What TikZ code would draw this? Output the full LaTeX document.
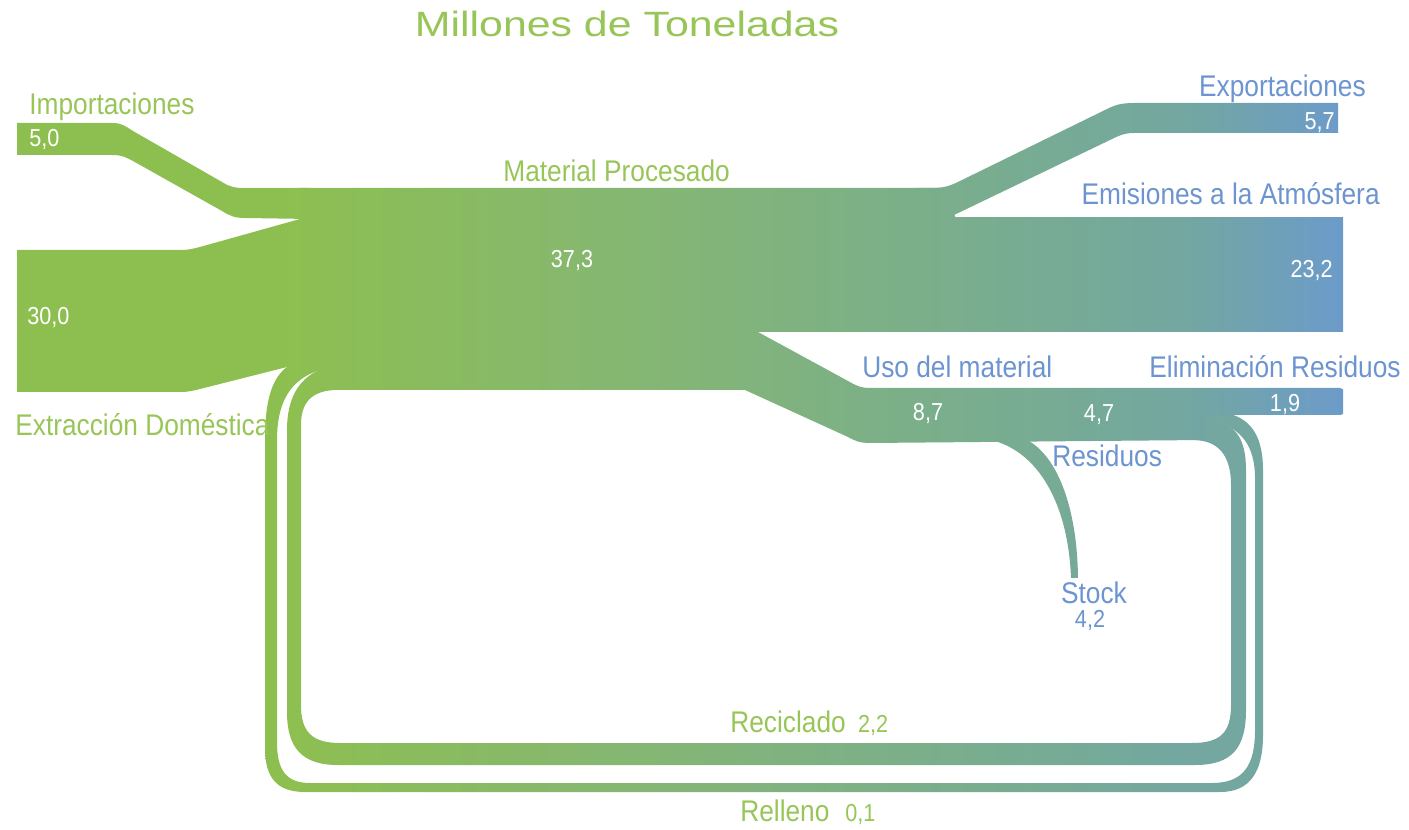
\documentclass[tikz,border=0pt]{standalone}
\usepackage{fontspec}
\setmainfont{Liberation Sans}[FakeStretch=0.88]
\newfontfamily\titlefont{Liberation Sans}[FakeStretch=1.22]

\definecolor{flowA}{RGB}{141,191,80}
\definecolor{flowB}{RGB}{134,183,112}
\definecolor{flowC}{RGB}{122,174,140}
\definecolor{flowE}{RGB}{115,167,160}
\definecolor{flowD}{RGB}{108,155,202}
\definecolor{labelgreen}{RGB}{152,197,88}
\definecolor{labelblue}{RGB}{108,148,208}

% the band box is mapped on 25bp..75bp
\pgfdeclarehorizontalshading{flowshade}{100bp}{color(0bp)=(flowA); color(35bp)=(flowA); color(47bp)=(flowB); color(60bp)=(flowC); color(69bp)=(flowE); color(75bp)=(flowD); color(100bp)=(flowD)}
\pgfdeclarehorizontalshading{loopshade}{100bp}{color(0bp)=(flowA); color(35bp)=(flowA); color(47bp)=(flowB); color(60bp)=(flowC); color(69bp)=(flowE); color(100bp)=(flowE)}

\tikzset{
    band/.style={path picture={\shade[shading=flowshade] (17,0) rectangle (1343,830);}},
    loop band/.style={path picture={\shade[shading=loopshade] (17,0) rectangle (1343,830);}},
    lbl/.style={inner sep=0pt, font=\fontsize{17}{20}\selectfont},
    grn/.style={lbl, text=labelgreen},
    blu/.style={lbl, text=labelblue},
    num/.style={inner sep=0pt, text=white, font=\fontsize{14}{16}\selectfont},
}

\begin{document}
\begin{tikzpicture}[x=0.02cm, y=-0.02cm]
    \useasboundingbox (0,0) rectangle (1409,830);

    % loops back
    \path[loop band] (317,371) .. controls (299,380) and (287,398) .. (287,430) -- (287,712) .. controls (287,748) and (302,765) .. (338,765) -- (1195,765) .. controls (1232,765) and (1246,748) .. (1246,710) -- (1246,470) .. controls (1246,440) and (1236,425) .. (1217,423) -- (1195,423) -- (1195,440) .. controls (1218,441) and (1231,455) .. (1231,485) -- (1231,705) .. controls (1231,733) and (1220,743) .. (1192,743) -- (340,743) .. controls (312,743) and (301,732) .. (301,705) -- (301,425) .. controls (301,402) and (312,391) .. (335,390) -- (335,370) -- cycle;
    \path[loop band] (287,367) .. controls (272,378) and (265,400) .. (265,440) -- (265,748) .. controls (265,778) and (277,792) .. (305,792) -- (1220,792) .. controls (1250,792) and (1263,772) .. (1263,735) -- (1263,470) .. controls (1263,438) and (1252,420) .. (1230,414) -- (1205,414) -- (1205,423) -- (1217,423) .. controls (1240,428) and (1255,445) .. (1255,478) -- (1255,730) .. controls (1255,766) and (1243,783) .. (1212,783) -- (310,783) .. controls (286,783) and (277,770) .. (277,742) -- (277,440) .. controls (277,400) and (292,380) .. (317,371) -- (300,362) -- cycle;

    % inputs
    \path[band] (17,123) -- (112,123) .. controls (122,123) and (125,126) .. (133,131) -- (222,182) .. controls (230,187) and (235,188) .. (245,188) -- (310,188) -- (310,219) -- (245,218) .. controls (235,218) and (230,216) .. (222,211) -- (133,161) .. controls (125,157) and (122,155) .. (112,155) -- (17,155) -- cycle;
    \path[band] (17,250) -- (180,250) .. controls (188,250) and (192,249) .. (200,247) -- (300,219) -- (340,219) -- (340,376) -- (317,371) -- (287,367) -- (200,389) .. controls (192,391) and (188,392) .. (180,392) -- (17,392) -- cycle;

    % material procesado
    \path[band] (300,188) -- (940,188) -- (956,218) -- (956,332) -- (758,332) -- (745,390) -- (330,390) -- (330,219) -- (300,219) -- cycle;

    % outputs
    \path[band] (915,188) -- (930,188) .. controls (945,188) and (950,186) .. (962,180) -- (1105,110) .. controls (1115,105) and (1120,103) .. (1135,103) -- (1338,103) -- (1338,133) -- (1135,133) .. controls (1125,133) and (1120,135) .. (1110,140) -- (952,216) -- (915,216) -- cycle;
    \path[band] (950,218) -- (1343,218) -- (1343,332) -- (950,332) -- cycle;
    \path[band] (745,332) -- (758,332) -- (848,381) .. controls (855,385) and (860,388) .. (870,388) -- (1340,388) .. controls (1343,388) and (1344,390) .. (1344,393) -- (1344,411) .. controls (1344,414) and (1343,415) .. (1340,415) -- (1205,415) -- (1205,440) -- (870,443) .. controls (860,443) and (855,441) .. (848,437) -- (745,390) -- cycle;
    \path[loop band] (980,438) .. controls (1035,444) and (1068,500) .. (1071,578) -- (1078,578) .. controls (1077,495) and (1050,442) .. (1015,436) -- cycle;

    % labels
    \node[anchor=base, inner sep=0pt, text=labelgreen, font=\titlefont\fontsize{20}{24}\selectfont] (title) at (627,37) {Millones de Toneladas};
    \node[grn, anchor=base west] (imp) at (29,115) {Importaciones};
    \node[num, anchor=base west] (imp-val) at (29,147) {5,0};
    \node[num, anchor=base west] (ext-val) at (27,325) {30,0};
    \node[grn, anchor=base west] (ext) at (15,436) {Extracción Doméstica};
    \node[grn, anchor=base west] (proc) at (503,182) {Material Procesado};
    \node[num, anchor=base] (proc-val) at (572,268) {37,3};
    \node[blu, anchor=base east] (exp) at (1366,97) {Exportaciones};
    \node[num, anchor=base east] (exp-val) at (1335,130) {5,7};
    \node[blu, anchor=base east] (emi) at (1380,205) {Emisiones a la Atmósfera};
    \node[num, anchor=base east] (emi-val) at (1333,278) {23,2};
    \node[blu, anchor=base west] (uso) at (862,378) {Uso del material};
    \node[num, anchor=base] (uso-val) at (928,421) {8,7};
    \node[blu, anchor=base east] (elim) at (1401,378) {Eliminación Residuos};
    \node[num, anchor=base] (elim-val) at (1285,412) {1,9};
    \node[num, anchor=base] (res-val) at (1099,422) {4,7};
    \node[blu, anchor=base west] (res) at (1052,467) {Residuos};
    \node[blu, anchor=base] (stock) at (1094,603) {Stock};
    \node[num, anchor=base, text=labelblue] (stock-val) at (1090,627) {4,2};
    \node[grn, anchor=base west] (recic) at (730,732) {Reciclado\hspace{7pt}{\fontsize{14}{16}\selectfont 2,2}};
    \node[grn, anchor=base west] (relleno) at (740,821) {Relleno\hspace{9pt}{\fontsize{14}{16}\selectfont 0,1}};
\end{tikzpicture}
\end{document}
